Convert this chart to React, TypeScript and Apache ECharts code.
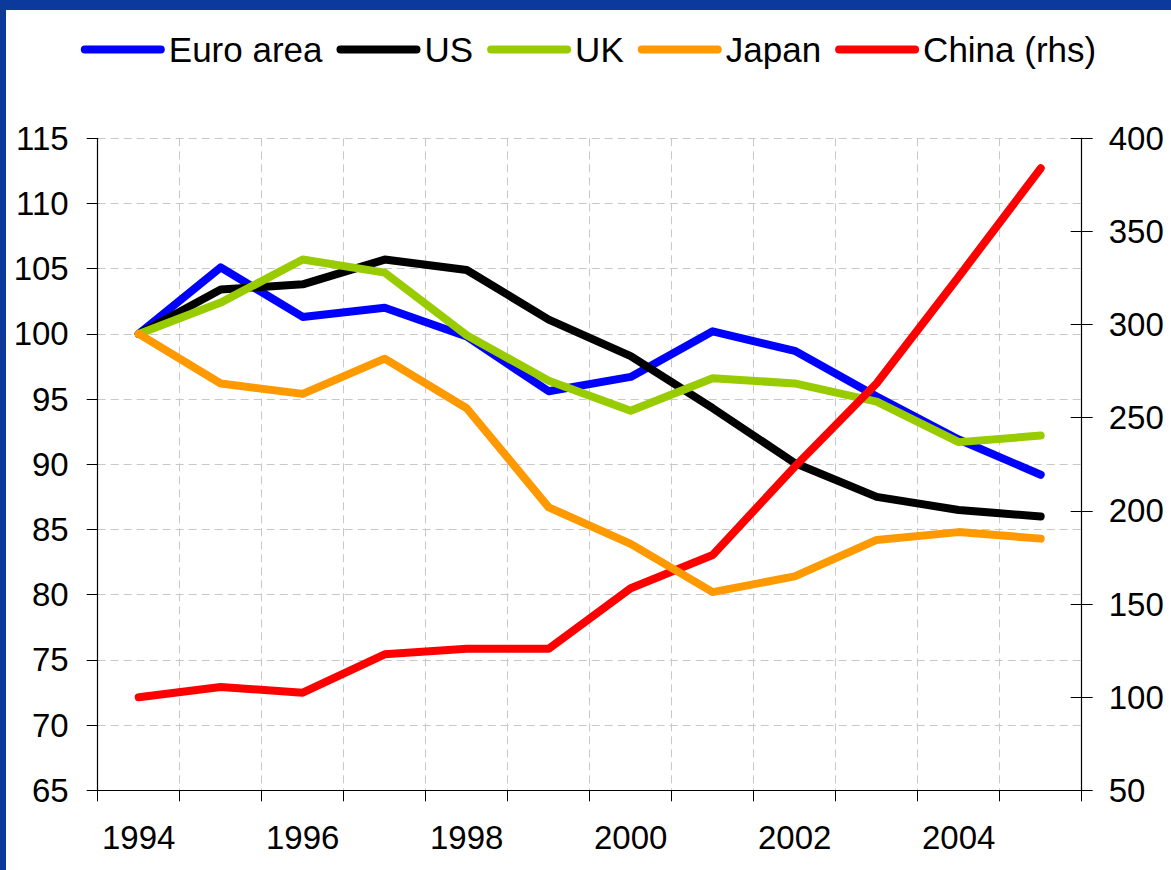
import React, { useEffect, useRef } from "react";
import * as echarts from "echarts";

const years = ["1994", "1995", "1996", "1997", "1998", "1999", "2000", "2001", "2002", "2003", "2004", "2005"];
const euroArea = [100, 105.1, 101.3, 102.0, 99.8, 95.6, 96.7, 100.2, 98.7, 95.2, 91.9, 89.2];
const us = [100, 103.4, 103.8, 105.7, 104.9, 101.1, 98.3, 94.3, 90.1, 87.5, 86.5, 86.0];
const uk = [100, 102.4, 105.7, 104.7, 99.9, 96.4, 94.1, 96.6, 96.2, 94.8, 91.7, 92.2];
const japan = [100, 96.2, 95.4, 98.1, 94.3, 86.7, 83.9, 80.2, 81.4, 84.2, 84.8, 84.3];
const china = [100, 105.5, 102.4, 123, 126, 126, 158.5, 176.3, 223.7, 268.5, 325.7, 383.9];

const legendNames = ["Euro area", "US", "UK", "Japan", "China (rhs)"];
const FONT = "'Liberation Sans', Arial, sans-serif";

export default function App() {
  const ref = useRef<HTMLDivElement>(null);
  useEffect(() => {
    if (!ref.current) return;
    const chart = echarts.init(ref.current, null, { renderer: "svg" });
    const line = (name: string, data: number[], color: string, yAxisIndex = 0) => ({
      name,
      type: "line",
      data,
      yAxisIndex,
      symbol: "none",
      smooth: false,
      lineStyle: { color, width: 8, cap: "round", join: "round" },
      itemStyle: { color },
    });
    chart.setOption({
      animation: false,
      textStyle: { fontFamily: FONT },
      legend: {
        data: legendNames,
        top: 17,
        left: "center",
        itemWidth: 76,
        itemHeight: 14,
        itemGap: 14,
        itemStyle: { opacity: 0 },
        lineStyle: { width: 8, cap: "round" },
        textStyle: { fontSize: 35, color: "#000", fontFamily: FONT, padding: [0, 0, 0, 3] },
      },
      grid: { left: 91.7, right: 89.3, top: 128.3, bottom: 79.7 },
      xAxis: {
        type: "category",
        data: years,
        boundaryGap: true,
        axisLine: { lineStyle: { color: "#000", width: 1.2 } },
        axisTick: { show: true, interval: 0, length: 11, lineStyle: { color: "#000" } },
        axisLabel: { interval: 1, fontSize: 33, color: "#000", margin: 31, fontFamily: FONT },
        splitLine: { show: true, interval: 0, lineStyle: { color: "#c8c8c8", type: [8, 5], width: 1 } },
      },
      yAxis: [
        {
          type: "value",
          min: 65,
          max: 115,
          interval: 5,
          position: "left",
          axisLine: { show: true, lineStyle: { color: "#000", width: 1.2 } },
          axisTick: { show: true, length: 11, lineStyle: { color: "#000" } },
          axisLabel: { fontSize: 33, color: "#000", margin: 29, fontFamily: FONT },
          splitLine: { show: true, lineStyle: { color: "#c8c8c8", type: [8, 5], width: 1 } },
        },
        {
          type: "value",
          min: 50,
          max: 400,
          interval: 50,
          position: "right",
          offset: 0,
          axisLine: { show: true, lineStyle: { color: "#000", width: 1.2 } },
          axisTick: { show: true, length: 11, lineStyle: { color: "#000" } },
          axisLabel: { fontSize: 33, color: "#000", margin: 27, fontFamily: FONT },
          splitLine: { show: false },
        },
        {
          type: "value",
          min: 50,
          max: 400,
          interval: 50,
          position: "right",
          offset: 0,
          axisLine: { show: false },
          axisTick: { show: true, inside: true, length: 11, lineStyle: { color: "#000" } },
          axisLabel: { show: false },
          splitLine: { show: false },
        },
      ],
      series: [
        line("Euro area", euroArea, "#0000ff"),
        line("US", us, "#000000"),
        line("UK", uk, "#99cc00"),
        line("China (rhs)", china, "#ff0000", 1),
        line("Japan", japan, "#ff9900"),
      ],
    });
    return () => chart.dispose();
  }, []);
  return (
    <div style={{ position: "fixed", left: 0, top: 0, width: 1171, height: 870, background: "#0b3a9c" }}>
      <div style={{ position: "absolute", left: 6, top: 10, right: 0, bottom: 0, background: "#fff" }} />
      <div ref={ref} style={{ position: "absolute", left: 6, top: 10, width: 1165, height: 860 }} />
    </div>
  );
}
